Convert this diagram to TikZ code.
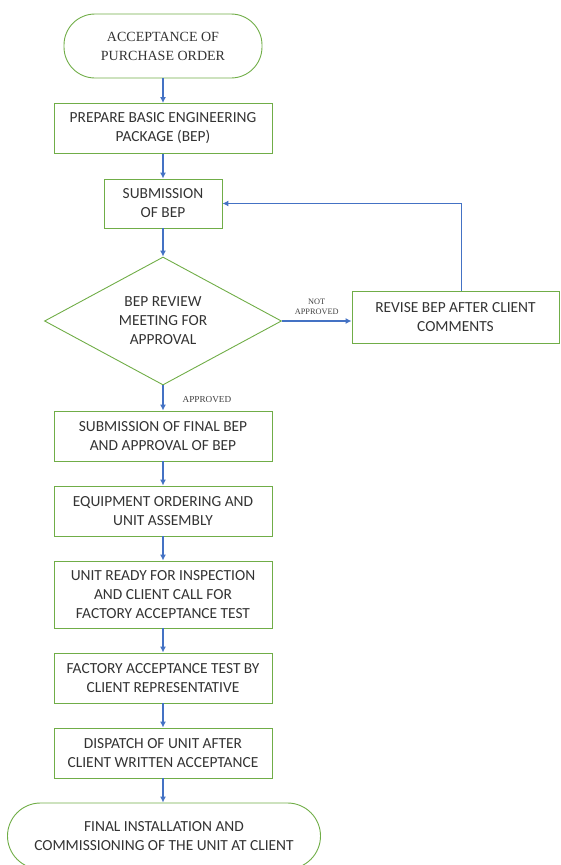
\documentclass[tikz,border=0pt]{standalone}
\usepackage{fontspec}
\setmainfont{Liberation Serif}
\setsansfont{Carlito}
\usetikzlibrary{shapes.geometric,arrows.meta}
\definecolor{boxgreen}{RGB}{112,173,71}
\definecolor{arrowblue}{RGB}{68,114,196}
\begin{document}
\begin{tikzpicture}[x=1pt, y=-1pt, every node/.style={font=\sffamily\fontsize{15.4}{19}\selectfont, text=black!80}]
  \tikzstyle{box}=[draw=boxgreen, line width=0.9pt, rectangle, align=center, minimum width=218, minimum height=50, inner sep=0pt]
  \tikzstyle{term}=[box, rounded corners=31, minimum height=64]
  \tikzstyle{decide}=[draw=boxgreen, line width=0.9pt, diamond, aspect=1.85, align=center, minimum width=237, minimum height=128, inner sep=0pt]
  \tikzstyle{arr}=[draw=arrowblue, line width=1.3pt, -{Latex[length=6pt, width=6pt]}]
  \tikzstyle{tag}=[font=\rmfamily\fontsize{8.3}{10}\selectfont, align=center, text=black!75, inner sep=0pt]
  \useasboundingbox (0,0) rectangle (560,865);
  \node[term, minimum width=198, font=\rmfamily\fontsize{14}{19}\selectfont] (accept) at (163,46) {ACCEPTANCE OF\\PURCHASE ORDER};
  \node[box] (prepare) at (163,128.5) {PREPARE BASIC ENGINEERING\\PACKAGE (BEP)};
  \node[box, minimum width=118, minimum height=49] (submit) at (163,203.5) {SUBMISSION\\OF BEP};
  \node[decide] (review) at (163,321) {BEP REVIEW\\MEETING FOR\\APPROVAL};
  \node[box, minimum width=207, minimum height=52] (revise) at (455.5,317) {REVISE BEP AFTER CLIENT\\COMMENTS};
  \node[box] (final) at (163,436) {SUBMISSION OF FINAL BEP\\AND APPROVAL OF BEP};
  \node[box] (order) at (163,511) {EQUIPMENT ORDERING AND\\UNIT ASSEMBLY};
  \node[box, minimum height=67] (ready) at (163,594.5) {UNIT READY FOR INSPECTION\\AND CLIENT CALL FOR\\FACTORY ACCEPTANCE TEST};
  \node[box] (fat) at (163,678) {FACTORY ACCEPTANCE TEST BY\\CLIENT REPRESENTATIVE};
  \node[box] (dispatch) at (163,753) {DISPATCH OF UNIT AFTER\\CLIENT WRITTEN ACCEPTANCE};
  \node[term, minimum width=313, minimum height=66, rounded corners=33] (install) at (164,836) {FINAL INSTALLATION AND\\COMMISSIONING OF THE UNIT AT CLIENT};
  % main flow
  \draw[arr] (accept) -- (prepare);
  \draw[arr] (prepare) -- (submit);
  \draw[arr] (submit) -- (review);
  \draw[arr] (review) -- node[tag, right, xshift=19pt, yshift=-2pt, font=\rmfamily\fontsize{9.2}{10}\selectfont] {APPROVED} (final);
  \draw[arr] (final) -- (order);
  \draw[arr] (order) -- (ready);
  \draw[arr] (ready) -- (fat);
  \draw[arr] (fat) -- (dispatch);
  \draw[arr] (dispatch) -- (dispatch |- install.north);
  % rejection loop
  \draw[arr] (review.east) -- node[tag, above, yshift=6pt] {NOT\\APPROVED} (revise.west |- review.east);
  \draw[arr] ([xshift=6]revise.north) |- (submit.east);
\end{tikzpicture}
\end{document}
